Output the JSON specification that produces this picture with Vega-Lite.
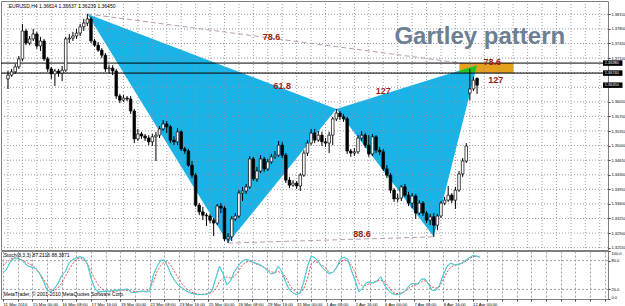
{
"$schema": "https://vega.github.io/schema/vega-lite/v6.json",
"padding": 0,
"background": "white",
"spacing": 1,
"bounds": "flush",
"config": {
  "font": "Liberation Sans",
  "view": {"stroke": "#7f7f7f", "strokeWidth": 1},
  "axis": {"labelFont": "Liberation Sans", "labelColor": "black", "tickColor": "#404040", "gridColor": "#9aa0ae", "gridDash": [2, 2], "gridWidth": 1, "gridOpacity": 1, "domain": false, "labelOverlap": false}
},
"datasets": {
  "candles": [
    {"i":0,"o":1.3660,"h":1.3679,"l":1.3636,"c":1.3669},
    {"i":1,"o":1.3669,"h":1.3684,"l":1.3665,"c":1.3677},
    {"i":2,"o":1.3677,"h":1.3696,"l":1.3672,"c":1.3689},
    {"i":3,"o":1.3689,"h":1.3715,"l":1.3684,"c":1.3708},
    {"i":4,"o":1.3708,"h":1.3792,"l":1.3703,"c":1.3775},
    {"i":5,"o":1.3775,"h":1.3780,"l":1.3741,"c":1.3746},
    {"i":6,"o":1.3746,"h":1.3763,"l":1.3741,"c":1.3756},
    {"i":7,"o":1.3756,"h":1.3780,"l":1.3751,"c":1.3768},
    {"i":8,"o":1.3768,"h":1.3773,"l":1.3732,"c":1.3739},
    {"i":9,"o":1.3739,"h":1.3761,"l":1.3727,"c":1.3751},
    {"i":10,"o":1.3751,"h":1.3756,"l":1.3703,"c":1.3708},
    {"i":11,"o":1.3708,"h":1.3713,"l":1.3677,"c":1.3684},
    {"i":12,"o":1.3684,"h":1.3689,"l":1.3660,"c":1.3672},
    {"i":13,"o":1.3672,"h":1.3684,"l":1.3643,"c":1.3679},
    {"i":14,"o":1.3679,"h":1.3684,"l":1.3665,"c":1.3674},
    {"i":15,"o":1.3674,"h":1.3691,"l":1.3655,"c":1.3681},
    {"i":16,"o":1.3681,"h":1.3761,"l":1.3677,"c":1.3756},
    {"i":17,"o":1.3756,"h":1.3768,"l":1.3746,"c":1.3758},
    {"i":18,"o":1.3758,"h":1.3773,"l":1.3751,"c":1.3763},
    {"i":19,"o":1.3763,"h":1.3780,"l":1.3756,"c":1.3770},
    {"i":20,"o":1.3770,"h":1.3792,"l":1.3763,"c":1.3785},
    {"i":21,"o":1.3785,"h":1.3804,"l":1.3775,"c":1.3794},
    {"i":22,"o":1.3794,"h":1.3816,"l":1.3787,"c":1.3804},
    {"i":23,"o":1.3804,"h":1.3809,"l":1.3746,"c":1.3751},
    {"i":24,"o":1.3751,"h":1.3756,"l":1.3737,"c":1.3741},
    {"i":25,"o":1.3741,"h":1.3749,"l":1.3725,"c":1.3729},
    {"i":26,"o":1.3729,"h":1.3734,"l":1.3710,"c":1.3717},
    {"i":27,"o":1.3717,"h":1.3722,"l":1.3677,"c":1.3684},
    {"i":28,"o":1.3684,"h":1.3693,"l":1.3674,"c":1.3686},
    {"i":29,"o":1.3686,"h":1.3693,"l":1.3669,"c":1.3679},
    {"i":30,"o":1.3679,"h":1.3684,"l":1.3612,"c":1.3619},
    {"i":31,"o":1.3619,"h":1.3624,"l":1.3602,"c":1.3609},
    {"i":32,"o":1.3609,"h":1.3621,"l":1.3605,"c":1.3614},
    {"i":33,"o":1.3614,"h":1.3619,"l":1.3607,"c":1.3612},
    {"i":34,"o":1.3612,"h":1.3619,"l":1.3576,"c":1.3583},
    {"i":35,"o":1.3583,"h":1.3588,"l":1.3506,"c":1.3516},
    {"i":36,"o":1.3516,"h":1.3540,"l":1.3511,"c":1.3528},
    {"i":37,"o":1.3528,"h":1.3533,"l":1.3516,"c":1.3523},
    {"i":38,"o":1.3523,"h":1.3528,"l":1.3511,"c":1.3518},
    {"i":39,"o":1.3518,"h":1.3525,"l":1.3501,"c":1.3509},
    {"i":40,"o":1.3509,"h":1.3528,"l":1.3499,"c":1.3521},
    {"i":41,"o":1.3521,"h":1.3533,"l":1.3463,"c":1.3525},
    {"i":42,"o":1.3525,"h":1.3547,"l":1.3518,"c":1.3540},
    {"i":43,"o":1.3540,"h":1.3561,"l":1.3535,"c":1.3552},
    {"i":44,"o":1.3552,"h":1.3559,"l":1.3530,"c":1.3545},
    {"i":45,"o":1.3545,"h":1.3549,"l":1.3506,"c":1.3513},
    {"i":46,"o":1.3513,"h":1.3523,"l":1.3501,"c":1.3509},
    {"i":47,"o":1.3509,"h":1.3542,"l":1.3501,"c":1.3533},
    {"i":48,"o":1.3533,"h":1.3537,"l":1.3487,"c":1.3492},
    {"i":49,"o":1.3492,"h":1.3497,"l":1.3480,"c":1.3487},
    {"i":50,"o":1.3487,"h":1.3492,"l":1.3449,"c":1.3453},
    {"i":51,"o":1.3453,"h":1.3463,"l":1.3422,"c":1.3429},
    {"i":52,"o":1.3429,"h":1.3434,"l":1.3353,"c":1.3357},
    {"i":53,"o":1.3357,"h":1.3362,"l":1.3333,"c":1.3341},
    {"i":54,"o":1.3341,"h":1.3353,"l":1.3321,"c":1.3333},
    {"i":55,"o":1.3333,"h":1.3338,"l":1.3307,"c":1.3331},
    {"i":56,"o":1.3331,"h":1.3336,"l":1.3314,"c":1.3321},
    {"i":57,"o":1.3321,"h":1.3326,"l":1.3283,"c":1.3314},
    {"i":58,"o":1.3314,"h":1.3360,"l":1.3309,"c":1.3355},
    {"i":59,"o":1.3355,"h":1.3362,"l":1.3338,"c":1.3350},
    {"i":60,"o":1.3350,"h":1.3355,"l":1.3271,"c":1.3276},
    {"i":61,"o":1.3276,"h":1.3290,"l":1.3266,"c":1.3281},
    {"i":62,"o":1.3281,"h":1.3331,"l":1.3271,"c":1.3324},
    {"i":63,"o":1.3324,"h":1.3338,"l":1.3319,"c":1.3331},
    {"i":64,"o":1.3331,"h":1.3393,"l":1.3326,"c":1.3386},
    {"i":65,"o":1.3386,"h":1.3401,"l":1.3367,"c":1.3391},
    {"i":66,"o":1.3391,"h":1.3408,"l":1.3384,"c":1.3401},
    {"i":67,"o":1.3401,"h":1.3475,"l":1.3396,"c":1.3468},
    {"i":68,"o":1.3468,"h":1.3473,"l":1.3415,"c":1.3420},
    {"i":69,"o":1.3420,"h":1.3449,"l":1.3413,"c":1.3439},
    {"i":70,"o":1.3439,"h":1.3477,"l":1.3434,"c":1.3468},
    {"i":71,"o":1.3468,"h":1.3473,"l":1.3437,"c":1.3444},
    {"i":72,"o":1.3444,"h":1.3468,"l":1.3439,"c":1.3461},
    {"i":73,"o":1.3461,"h":1.3480,"l":1.3456,"c":1.3473},
    {"i":74,"o":1.3473,"h":1.3487,"l":1.3468,"c":1.3477},
    {"i":75,"o":1.3477,"h":1.3511,"l":1.3473,"c":1.3501},
    {"i":76,"o":1.3501,"h":1.3509,"l":1.3470,"c":1.3477},
    {"i":77,"o":1.3477,"h":1.3482,"l":1.3410,"c":1.3417},
    {"i":78,"o":1.3417,"h":1.3425,"l":1.3398,"c":1.3405},
    {"i":79,"o":1.3405,"h":1.3417,"l":1.3401,"c":1.3410},
    {"i":80,"o":1.3410,"h":1.3415,"l":1.3396,"c":1.3403},
    {"i":81,"o":1.3403,"h":1.3434,"l":1.3391,"c":1.3429},
    {"i":82,"o":1.3429,"h":1.3489,"l":1.3425,"c":1.3482},
    {"i":83,"o":1.3482,"h":1.3513,"l":1.3475,"c":1.3506},
    {"i":84,"o":1.3506,"h":1.3540,"l":1.3501,"c":1.3530},
    {"i":85,"o":1.3530,"h":1.3540,"l":1.3506,"c":1.3513},
    {"i":86,"o":1.3513,"h":1.3535,"l":1.3509,"c":1.3525},
    {"i":87,"o":1.3525,"h":1.3533,"l":1.3499,"c":1.3509},
    {"i":88,"o":1.3509,"h":1.3518,"l":1.3497,"c":1.3506},
    {"i":89,"o":1.3506,"h":1.3533,"l":1.3482,"c":1.3525},
    {"i":90,"o":1.3525,"h":1.3569,"l":1.3501,"c":1.3564},
    {"i":91,"o":1.3564,"h":1.3588,"l":1.3559,"c":1.3578},
    {"i":92,"o":1.3578,"h":1.3583,"l":1.3561,"c":1.3569},
    {"i":93,"o":1.3569,"h":1.3576,"l":1.3557,"c":1.3564},
    {"i":94,"o":1.3564,"h":1.3569,"l":1.3480,"c":1.3487},
    {"i":95,"o":1.3487,"h":1.3492,"l":1.3473,"c":1.3482},
    {"i":96,"o":1.3482,"h":1.3494,"l":1.3475,"c":1.3485},
    {"i":97,"o":1.3485,"h":1.3525,"l":1.3480,"c":1.3518},
    {"i":98,"o":1.3518,"h":1.3535,"l":1.3511,"c":1.3525},
    {"i":99,"o":1.3525,"h":1.3530,"l":1.3494,"c":1.3501},
    {"i":100,"o":1.3501,"h":1.3525,"l":1.3473,"c":1.3480},
    {"i":101,"o":1.3480,"h":1.3528,"l":1.3475,"c":1.3521},
    {"i":102,"o":1.3521,"h":1.3525,"l":1.3482,"c":1.3489},
    {"i":103,"o":1.3489,"h":1.3497,"l":1.3477,"c":1.3485},
    {"i":104,"o":1.3485,"h":1.3492,"l":1.3439,"c":1.3444},
    {"i":105,"o":1.3444,"h":1.3453,"l":1.3422,"c":1.3429},
    {"i":106,"o":1.3429,"h":1.3434,"l":1.3386,"c":1.3393},
    {"i":107,"o":1.3393,"h":1.3398,"l":1.3365,"c":1.3372},
    {"i":108,"o":1.3372,"h":1.3384,"l":1.3365,"c":1.3374},
    {"i":109,"o":1.3374,"h":1.3405,"l":1.3367,"c":1.3401},
    {"i":110,"o":1.3401,"h":1.3408,"l":1.3377,"c":1.3381},
    {"i":111,"o":1.3381,"h":1.3389,"l":1.3355,"c":1.3362},
    {"i":112,"o":1.3362,"h":1.3386,"l":1.3350,"c":1.3379},
    {"i":113,"o":1.3379,"h":1.3384,"l":1.3324,"c":1.3338},
    {"i":114,"o":1.3338,"h":1.3369,"l":1.3333,"c":1.3362},
    {"i":115,"o":1.3362,"h":1.3367,"l":1.3331,"c":1.3338},
    {"i":116,"o":1.3338,"h":1.3343,"l":1.3314,"c":1.3321},
    {"i":117,"o":1.3321,"h":1.3336,"l":1.3309,"c":1.3329},
    {"i":118,"o":1.3329,"h":1.3338,"l":1.3281,"c":1.3309},
    {"i":119,"o":1.3309,"h":1.3336,"l":1.3297,"c":1.3331},
    {"i":120,"o":1.3331,"h":1.3367,"l":1.3326,"c":1.3362},
    {"i":121,"o":1.3362,"h":1.3377,"l":1.3357,"c":1.3369},
    {"i":122,"o":1.3369,"h":1.3403,"l":1.3365,"c":1.3381},
    {"i":123,"o":1.3381,"h":1.3386,"l":1.3362,"c":1.3369},
    {"i":124,"o":1.3369,"h":1.3401,"l":1.3348,"c":1.3393},
    {"i":125,"o":1.3393,"h":1.3439,"l":1.3389,"c":1.3432},
    {"i":126,"o":1.3432,"h":1.3470,"l":1.3425,"c":1.3463},
    {"i":127,"o":1.3463,"h":1.3506,"l":1.3458,"c":1.3499},
    {"i":128,"o":1.3626,"h":1.3684,"l":1.3609,"c":1.3636},
    {"i":129,"o":1.3636,"h":1.3665,"l":1.3631,"c":1.3657},
    {"i":130,"o":1.36614,"h":1.36637,"l":1.36239,"c":1.36450}
  ],
  "stoch": [
    {"i":0,"k":53.9,"d":68.8},{"i":1,"k":62.4,"d":76.6},{"i":2,"k":77.3,"d":82.3},{"i":3,"k":84.4,"d":85.8},
    {"i":4,"k":84.4,"d":84.4},{"i":5,"k":81.6,"d":81.6},{"i":6,"k":73.8,"d":78.0},{"i":7,"k":68.1,"d":73.8},
    {"i":8,"k":66.0,"d":70.2},{"i":9,"k":63.1,"d":63.8},{"i":10,"k":52.5,"d":53.9},{"i":11,"k":37.6,"d":41.9},
    {"i":12,"k":18.4,"d":29.1},{"i":13,"k":14.9,"d":17.7},{"i":14,"k":22.0,"d":17.7},{"i":15,"k":32.6,"d":22.7},
    {"i":16,"k":49.0,"d":33.3},{"i":17,"k":57.5,"d":47.5},{"i":18,"k":75.2,"d":61.0},{"i":19,"k":82.3,"d":73.1},
    {"i":20,"k":85.8,"d":83.0},{"i":21,"k":88.0,"d":85.1},{"i":22,"k":85.8,"d":82.3},{"i":23,"k":73.1,"d":73.8},
    {"i":24,"k":43.3,"d":57.5},{"i":25,"k":22.0,"d":41.9},{"i":26,"k":14.9,"d":28.4},{"i":27,"k":15.6,"d":20.6},
    {"i":28,"k":16.3,"d":17.0},{"i":29,"k":16.3,"d":14.9},{"i":30,"k":17.7,"d":15.6},{"i":31,"k":18.4,"d":16.3},
    {"i":32,"k":18.4,"d":17.7},{"i":33,"k":19.9,"d":18.4},{"i":34,"k":20.6,"d":17.7},{"i":35,"k":13.5,"d":16.3},
    {"i":36,"k":13.5,"d":15.6},{"i":37,"k":15.6,"d":14.9},{"i":38,"k":16.3,"d":15.6},{"i":39,"k":14.9,"d":16.3},
    {"i":40,"k":16.3,"d":22.0},{"i":41,"k":50.4,"d":35.5},{"i":42,"k":68.1,"d":58.2},{"i":43,"k":80.9,"d":70.2},
    {"i":44,"k":80.9,"d":76.6},{"i":45,"k":66.0,"d":77.3},{"i":46,"k":48.2,"d":67.4},{"i":47,"k":36.2,"d":53.2},
    {"i":48,"k":27.0,"d":41.1},{"i":49,"k":22.0,"d":29.1},{"i":50,"k":16.3,"d":21.3},{"i":51,"k":12.8,"d":16.3},
    {"i":52,"k":10.6,"d":12.1},{"i":53,"k":9.2,"d":10.6},{"i":54,"k":9.2,"d":9.2},{"i":55,"k":9.2,"d":10.6},
    {"i":56,"k":11.4,"d":11.4},{"i":57,"k":17.7,"d":13.5},{"i":58,"k":43.3,"d":21.3},{"i":59,"k":68.1,"d":36.2},
    {"i":60,"k":52.5,"d":43.3},{"i":61,"k":29.1,"d":46.1},{"i":62,"k":37.6,"d":44.0},{"i":63,"k":56.0,"d":46.1},
    {"i":64,"k":67.4,"d":56.0},{"i":65,"k":77.3,"d":68.8},{"i":66,"k":82.3,"d":75.9},{"i":67,"k":80.9,"d":78.7},
    {"i":68,"k":77.3,"d":76.6},{"i":69,"k":73.8,"d":73.1},{"i":70,"k":71.6,"d":70.2},{"i":71,"k":66.7,"d":66.0},
    {"i":72,"k":59.6,"d":61.7},{"i":73,"k":52.5,"d":56.7},{"i":74,"k":53.9,"d":55.3},{"i":75,"k":68.1,"d":57.5},
    {"i":76,"k":57.5,"d":53.2},{"i":77,"k":36.2,"d":46.8},{"i":78,"k":19.9,"d":31.2},{"i":79,"k":12.8,"d":19.9},
    {"i":80,"k":9.2,"d":13.5},{"i":81,"k":12.8,"d":12.1},{"i":82,"k":36.2,"d":22.0},{"i":83,"k":68.1,"d":42.6},
    {"i":84,"k":89.4,"d":73.8},{"i":85,"k":85.8,"d":78.7},{"i":86,"k":77.3,"d":74.5},{"i":87,"k":66.0,"d":70.2},
    {"i":88,"k":58.2,"d":64.5},{"i":89,"k":52.5,"d":53.9},{"i":90,"k":56.0,"d":56.0},{"i":91,"k":66.7,"d":67.4},
    {"i":92,"k":83.7,"d":76.6},{"i":93,"k":87.2,"d":81.6},{"i":94,"k":82.3,"d":78.7},{"i":95,"k":58.9,"d":70.2},
    {"i":96,"k":37.6,"d":55.3},{"i":97,"k":14.9,"d":32.6},{"i":98,"k":22.0,"d":27.0},{"i":99,"k":34.1,"d":29.1},
    {"i":100,"k":35.5,"d":31.9},{"i":101,"k":33.3,"d":35.5},{"i":102,"k":38.3,"d":37.6},{"i":103,"k":46.1,"d":39.0},
    {"i":104,"k":29.1,"d":36.2},{"i":105,"k":18.4,"d":26.2},{"i":106,"k":11.4,"d":15.6},{"i":107,"k":9.2,"d":11.4},
    {"i":108,"k":9.2,"d":11.4},{"i":109,"k":12.8,"d":13.5},{"i":110,"k":20.6,"d":17.7},{"i":111,"k":30.5,"d":24.8},
    {"i":112,"k":32.6,"d":28.4},{"i":113,"k":31.2,"d":30.5},{"i":114,"k":41.1,"d":35.5},{"i":115,"k":41.9,"d":38.3},
    {"i":116,"k":30.5,"d":31.9},{"i":117,"k":17.7,"d":24.8},{"i":118,"k":18.4,"d":22.7},{"i":119,"k":29.1,"d":25.5},
    {"i":120,"k":50.4,"d":40.4},{"i":121,"k":68.1,"d":56.0},{"i":122,"k":74.5,"d":66.0},{"i":123,"k":71.6,"d":70.2},
    {"i":124,"k":71.6,"d":71.6},{"i":125,"k":74.5,"d":73.8},{"i":126,"k":80.1,"d":78.0},{"i":127,"k":85.8,"d":83.0},
    {"i":128,"k":90.1,"d":88.0},{"i":129,"k":89.4,"d":88.7},{"i":130,"k":87.2116,"d":88.3871}
  ],
  "vgrid": [
    {"g":0},{"g":4},{"g":8},{"g":12},{"g":16},{"g":20},{"g":24},{"g":28},{"g":32},{"g":36},{"g":40},{"g":44},{"g":48},{"g":52},
    {"g":56},{"g":60},{"g":64},{"g":68},{"g":72},{"g":76},{"g":80},{"g":84},{"g":88},{"g":92},{"g":96},{"g":100},{"g":104},{"g":108},
    {"g":112},{"g":116},{"g":120},{"g":124},{"g":128},{"g":132},{"g":136},{"g":140},{"g":144},{"g":148},{"g":152},{"g":156},{"g":160},{"g":164}
  ],
  "hgrid": [
    {"g":1.3255},{"g":1.329},{"g":1.3325},{"g":1.336},{"g":1.3395},{"g":1.343},{"g":1.3465},{"g":1.35},{"g":1.3535},
    {"g":1.357},{"g":1.3605},{"g":1.364},{"g":1.3675},{"g":1.371},{"g":1.3745},{"g":1.378},{"g":1.3815}
  ],
  "triangles": [
    {"tri":"XAB","i":22,"p":1.3816,"p2":1.3816},
    {"tri":"XAB","i":61,"p":1.3687,"p2":1.3266},
    {"tri":"XAB","i":91,"p":1.3588,"p2":1.3588},
    {"tri":"BCD","i":91,"p":1.3588,"p2":1.3588},
    {"tri":"BCD","i":118,"p":1.3661,"p2":1.3281},
    {"tri":"BCD","i":130,"p":1.3693,"p2":1.3693}
  ],
  "green": [
    {"i":125.1,"p":1.3680,"p2":1.3674},
    {"i":129.45,"p":1.3691,"p2":1.3674},
    {"i":130,"p":1.3693,"p2":1.3693}
  ],
  "zone": [{"i1":125.1,"i2":140.1,"p1":1.3698,"p2":1.3674}],
  "dashed": [
    {"seg":"XD","i":22,"p":1.3816},{"seg":"XD","i":130,"p":1.3693},
    {"seg":"AC","i":61,"p":1.3266},{"seg":"AC","i":118,"p":1.3281}
  ],
  "hlines": [{"p":1.3698},{"p":1.3674}],
  "pricebox": [{"p":1.3698,"lab":"1.36980"},{"p":1.3674,"lab":"1.36740"},{"p":1.3645,"lab":"1.36450"}],
  "ratios": [
    {"t":"78.6","i":73,"p":1.3761},
    {"t":"61.8","i":76,"p":1.3644},
    {"t":"127","i":104,"p":1.3632},
    {"t":"88.6","i":98.1,"p":1.3287},
    {"t":"78.6","i":134.2,"p":1.3700},
    {"t":"127","i":135.2,"p":1.3657}
  ],
  "title": [{"t":"Gartley pattern","i":107.1,"p":1.3743}],
  "header": [{"t":"EURUSD,H4  1.36614 1.36637 1.36239 1.36450","i":0.2,"p":1.3835}],
  "levels": [{"v":20},{"v":80}],
  "stochtext": [
    {"t":"Stoch(8,3,3) 87.2116 88.3871","i":0.2,"v":91},
    {"t":"MetaTrader, © 2001-2010 MetaQuotes Software Corp.","i":0.2,"v":10}
  ]
},
"vconcat": [
  {
    "width": 607,
    "height": 249,
    "layer": [
      {
        "data": {"name": "triangles"},
        "mark": {"type": "area", "color": "#19b3e8", "opacity": 1},
        "encoding": {
          "x": {"field": "i", "type": "quantitative", "title": null, "scale": {"domain": [-0.55, 164.9], "nice": false, "zero": false},
                "axis": {"values": [0,4,8,12,16,20,24,28,32,36,40,44,48,52,56,60,64,68,72,76,80,84,88,92,96,100,104,108,112,116,120,124,128,132,136,140,144,148,152,156,160,164], "tickCount": 200, "labels": false, "ticks": false, "domain": false, "grid": false, "labelOverlap": false, "title": null}},
          "y": {"field": "p", "type": "quantitative", "title": null, "stack": null, "scale": {"domain": [1.32494, 1.3847], "nice": false, "zero": false},
                "axis": {"orient": "right", "values": [1.3255,1.329,1.3325,1.336,1.3395,1.343,1.3465,1.35,1.3535,1.357,1.3605,1.364,1.3675,1.371,1.3745,1.378,1.3815], "tickCount": 200, "labelExpr": "datum.value > 1.363 && datum.value < 1.369 ? '' : format(datum.value, '.5f')", "labelFontSize": 4, "tickSize": 2, "labelPadding": 1, "labelOverlap": false, "labelFlush": false, "grid": false, "domain": false, "title": null}},
          "y2": {"field": "p2"},
          "detail": {"field": "tri"}
        }
      },
      {
        "data": {"name": "zone"},
        "mark": {"type": "rect", "color": "#e5a11c"},
        "encoding": {
          "x": {"field": "i1", "type": "quantitative", "title": null, "scale": {"domain": [-0.55, 164.9], "nice": false, "zero": false}},
          "x2": {"field": "i2"},
          "y": {"field": "p1", "type": "quantitative", "title": null, "scale": {"domain": [1.32494, 1.3847], "nice": false, "zero": false}},
          "y2": {"field": "p2"}
        }
      },
      {
        "data": {"name": "green"},
        "mark": {"type": "area", "color": "#22c422", "opacity": 1},
        "encoding": {
          "x": {"field": "i", "type": "quantitative", "title": null, "scale": {"domain": [-0.55, 164.9], "nice": false, "zero": false}},
          "y": {"field": "p", "type": "quantitative", "title": null, "stack": null, "scale": {"domain": [1.32494, 1.3847], "nice": false, "zero": false}},
          "y2": {"field": "p2"}
        }
      },
      {
        "data": {"name": "vgrid"},
        "mark": {"type": "rule", "color": "#8c93a3", "strokeWidth": 1, "strokeDash": [1, 2], "opacity": 0.9},
        "encoding": {
          "x": {"field": "g", "type": "quantitative", "title": null, "scale": {"domain": [-0.55, 164.9], "nice": false, "zero": false}}
        }
      },
      {
        "data": {"name": "hgrid"},
        "mark": {"type": "rule", "color": "#8c93a3", "strokeWidth": 1, "strokeDash": [1, 2], "opacity": 0.9},
        "encoding": {
          "y": {"field": "g", "type": "quantitative", "title": null, "scale": {"domain": [1.32494, 1.3847], "nice": false, "zero": false}}
        }
      },
      {
        "data": {"name": "dashed"},
        "mark": {"type": "line", "color": "#b89cae", "strokeWidth": 1, "strokeDash": [5, 3]},
        "encoding": {
          "x": {"field": "i", "type": "quantitative", "title": null, "scale": {"domain": [-0.55, 164.9], "nice": false, "zero": false}},
          "y": {"field": "p", "type": "quantitative", "title": null, "scale": {"domain": [1.32494, 1.3847], "nice": false, "zero": false}},
          "detail": {"field": "seg"}
        }
      },
      {
        "data": {"name": "hlines"},
        "mark": {"type": "rule", "color": "black", "strokeWidth": 1},
        "encoding": {
          "y": {"field": "p", "type": "quantitative", "title": null, "scale": {"domain": [1.32494, 1.3847], "nice": false, "zero": false}}
        }
      },
      {
        "data": {"name": "candles"},
        "mark": {"type": "rule", "color": "black", "strokeWidth": 1},
        "encoding": {
          "x": {"field": "i", "type": "quantitative", "title": null, "scale": {"domain": [-0.55, 164.9], "nice": false, "zero": false}},
          "y": {"field": "l", "type": "quantitative", "title": null, "scale": {"domain": [1.32494, 1.3847], "nice": false, "zero": false}},
          "y2": {"field": "h"}
        }
      },
      {
        "data": {"name": "candles"},
        "mark": {"type": "bar", "size": 2.6, "stroke": "black", "strokeWidth": 0.7},
        "encoding": {
          "x": {"field": "i", "type": "quantitative", "title": null, "scale": {"domain": [-0.55, 164.9], "nice": false, "zero": false}},
          "y": {"field": "o", "type": "quantitative", "title": null, "scale": {"domain": [1.32494, 1.3847], "nice": false, "zero": false}},
          "y2": {"field": "c"},
          "fill": {"condition": {"test": "datum.c >= datum.o", "value": "white"}, "value": "black"}
        }
      },
      {
        "data": {"name": "ratios"},
        "mark": {"type": "text", "fontSize": 9, "fontWeight": "bold", "color": "#9c1a1a", "align": "center", "baseline": "middle"},
        "encoding": {
          "x": {"field": "i", "type": "quantitative", "title": null, "scale": {"domain": [-0.55, 164.9], "nice": false, "zero": false}},
          "y": {"field": "p", "type": "quantitative", "title": null, "scale": {"domain": [1.32494, 1.3847], "nice": false, "zero": false}},
          "text": {"field": "t"}
        }
      },
      {
        "data": {"name": "title"},
        "mark": {"type": "text", "fontSize": 24, "fontWeight": "bold", "font": "Liberation Sans", "color": "#6c7f93", "align": "left", "baseline": "alphabetic"},
        "encoding": {
          "x": {"field": "i", "type": "quantitative", "title": null, "scale": {"domain": [-0.55, 164.9], "nice": false, "zero": false}},
          "y": {"field": "p", "type": "quantitative", "title": null, "scale": {"domain": [1.32494, 1.3847], "nice": false, "zero": false}},
          "text": {"field": "t"}
        }
      },
      {
        "data": {"name": "header"},
        "mark": {"type": "text", "fontSize": 5, "color": "black", "align": "left", "baseline": "middle"},
        "encoding": {
          "x": {"field": "i", "type": "quantitative", "title": null, "scale": {"domain": [-0.55, 164.9], "nice": false, "zero": false}},
          "y": {"field": "p", "type": "quantitative", "title": null, "scale": {"domain": [1.32494, 1.3847], "nice": false, "zero": false}},
          "text": {"field": "t"}
        }
      },
      {
        "data": {"name": "pricebox"},
        "mark": {"type": "rule", "color": "black", "strokeWidth": 5.5, "strokeCap": "butt", "clip": false},
        "encoding": {
          "x": {"datum": 164.9, "type": "quantitative", "title": null, "scale": {"domain": [-0.55, 164.9], "nice": false, "zero": false}},
          "x2": {"datum": 170.3},
          "y": {"field": "p", "type": "quantitative", "title": null, "scale": {"domain": [1.32494, 1.3847], "nice": false, "zero": false}}
        }
      },
      {
        "data": {"name": "pricebox"},
        "mark": {"type": "text", "fontSize": 3.9, "color": "white", "align": "left", "baseline": "middle", "clip": false},
        "encoding": {
          "x": {"datum": 165.4, "type": "quantitative", "title": null, "scale": {"domain": [-0.55, 164.9], "nice": false, "zero": false}},
          "y": {"field": "p", "type": "quantitative", "title": null, "scale": {"domain": [1.32494, 1.3847], "nice": false, "zero": false}},
          "text": {"field": "lab"}
        }
      }
    ]
  },
  {
    "width": 607,
    "height": 48,
    "layer": [
      {
        "data": {"name": "stoch"},
        "mark": {"type": "line", "color": "#52cdd9", "strokeWidth": 1},
        "encoding": {
          "x": {"field": "i", "type": "quantitative", "title": null, "scale": {"domain": [-0.55, 164.9], "nice": false, "zero": false},
                "axis": {"values": [0,4,8,12,16,20,24,28,32,36,40,44,48,52,56,60,64,68,72,76,80,84,88,92,96,100,104,108,112,116,120,124,128,132,136,140,144,148,152,156,160,164],
                         "tickCount": 200,
                         "labelExpr": "(datum.value % 8 == 0 && datum.value <= 128) ? ['11 Mar 2010','15 Mar 00:00','16 Mar 08:00','17 Mar 16:00','19 Mar 00:00','22 Mar 08:00','23 Mar 16:00','25 Mar 00:00','26 Mar 08:00','29 Mar 16:00','31 Mar 00:00','1 Apr 08:00','2 Apr 16:00','6 Apr 00:00','7 Apr 08:00','8 Apr 16:00','12 Apr 00:00'][datum.value / 8] : ''",
                         "labelAlign": "left", "labelAngle": 0, "labelFontSize": 4.3, "labelPadding": 1, "tickSize": 2, "labelFlush": false, "labelBound": false, "labelOverlap": false, "grid": true, "gridColor": "#9aa0ae", "gridDash": [2, 2], "gridWidth": 1, "gridOpacity": 1, "domain": false, "title": null}},
          "y": {"field": "k", "type": "quantitative", "title": null, "scale": {"domain": [0, 100], "nice": false, "zero": false},
                "axis": {"orient": "right", "values": [0, 20, 80, 100], "tickCount": 200, "labelFontSize": 4, "tickSize": 2, "labelPadding": 1, "labelFlush": true, "labelOverlap": false, "grid": false, "domain": false, "title": null}}
        }
      },
      {
        "data": {"name": "levels"},
        "mark": {"type": "rule", "color": "#9aa0ae", "strokeWidth": 1, "strokeDash": [2, 2]},
        "encoding": {
          "y": {"field": "v", "type": "quantitative", "title": null, "scale": {"domain": [0, 100], "nice": false, "zero": false}}
        }
      },
      {
        "data": {"name": "stoch"},
        "mark": {"type": "line", "color": "#e8504a", "strokeWidth": 1, "strokeDash": [2, 1.5]},
        "encoding": {
          "x": {"field": "i", "type": "quantitative", "title": null, "scale": {"domain": [-0.55, 164.9], "nice": false, "zero": false}},
          "y": {"field": "d", "type": "quantitative", "title": null, "scale": {"domain": [0, 100], "nice": false, "zero": false}}
        }
      },
      {
        "data": {"name": "stoch"},
        "mark": {"type": "line", "color": "#52cdd9", "strokeWidth": 1},
        "encoding": {
          "x": {"field": "i", "type": "quantitative", "title": null, "scale": {"domain": [-0.55, 164.9], "nice": false, "zero": false}},
          "y": {"field": "k", "type": "quantitative", "title": null, "scale": {"domain": [0, 100], "nice": false, "zero": false}}
        }
      },
      {
        "data": {"name": "stochtext"},
        "mark": {"type": "text", "fontSize": 5, "color": "black", "align": "left", "baseline": "middle"},
        "encoding": {
          "x": {"field": "i", "type": "quantitative", "title": null, "scale": {"domain": [-0.55, 164.9], "nice": false, "zero": false}},
          "y": {"field": "v", "type": "quantitative", "title": null, "scale": {"domain": [0, 100], "nice": false, "zero": false}},
          "text": {"field": "t"}
        }
      }
    ]
  }
]
}
